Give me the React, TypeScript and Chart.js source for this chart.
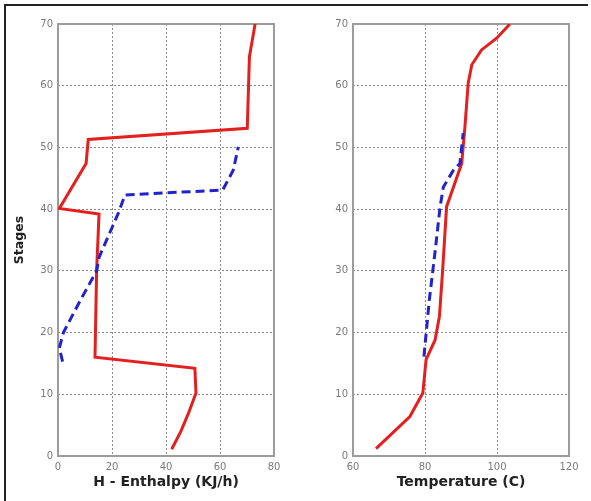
import React, { useEffect, useRef } from 'react';
import { Chart, registerables } from 'chart.js';
Chart.register(...registerables);

// ---- Data ----
const stageMin = 0;
const stageMax = 70;
const stageStep = 10;

// Left panel: H - Enthalpy
const enthalpyRedStages = [1.1, 4, 6.9, 10.2, 14.2, 16, 30, 39.2, 40.1, 47.4, 51.3, 53.1, 64.7, 70];
const enthalpyRedValues = [42.1, 45.5, 48.3, 51.1, 50.7, 13.7, 14.3, 15.2, 0.5, 10.4, 11.2, 70.1, 70.9, 73];
const enthalpyBlueStages = [15.3, 17.5, 20, 25, 30, 32.3, 39.3, 42.3, 43.1, 46.3, 50.1];
const enthalpyBlueValues = [1.7, 0.5, 2, 8, 14.3, 15.3, 22.3, 24.8, 61, 64.9, 66.8];

// Right panel: Temperature
const tempRedStages = [1.2, 6.4, 10.2, 15.6, 18.8, 22.6, 30.1, 40.4, 47.4, 53.4, 60.4, 63.4, 65.8, 67.7, 70];
const tempRedValues = [66.4, 75.8, 79.4, 80.3, 82.8, 84.0, 84.9, 86.0, 90.2, 91.1, 92.0, 93.0, 95.7, 99.9, 103.6];
const tempBlueStages = [16.1, 25.3, 33.1, 40.4, 43.6, 46.3, 47.4, 52.3];
const tempBlueValues = [79.7, 81.2, 82.8, 84.2, 85.1, 87.9, 89.7, 90.6];

const RED = '#e4201e';
const BLUE = '#2323cc';

const pts = (xs: number[], ys: number[]) => xs.map((x, i) => ({ x, y: ys[i] }));

const boxPlugin = {
  id: 'box',
  beforeDatasetsDraw(chart: any) {
    const { ctx, chartArea } = chart;
    const { left, top, right, bottom } = chartArea;
    ctx.save();
    ctx.strokeStyle = '#9c9c9c';
    ctx.lineWidth = 2;
    ctx.strokeRect(left, top, right - left, bottom - top);
    ctx.restore();
  },
};

type PanelProps = {
  left: number;
  width: number;
  xMin: number;
  xMax: number;
  xStep: number;
  xTitle: string;
  yTitle?: string;
  red: { x: number; y: number }[];
  blue: { x: number; y: number }[];
  padRight: number;
};

function Panel(p: PanelProps) {
  const ref = useRef<HTMLCanvasElement | null>(null);
  useEffect(() => {
    if (!ref.current) return;
    const tickFont = { family: 'DejaVu Sans', size: 10 };
    const chart = new Chart(ref.current, {
      type: 'line',
      data: {
        datasets: [
          {
            data: p.blue,
            borderColor: BLUE,
            borderWidth: 3,
            borderDash: [9, 5],
            pointRadius: 0,
            tension: 0,
            fill: false,
          },
          {
            data: p.red,
            borderColor: RED,
            borderWidth: 3,
            pointRadius: 0,
            tension: 0,
            fill: false,
          },
        ],
      },
      options: {
        animation: false,
        responsive: false,
        maintainAspectRatio: false,
        layout: { padding: { left: 0, top: 24, right: p.padRight, bottom: 0 } },
        plugins: { legend: { display: false }, tooltip: { enabled: false } },
        scales: {
          x: {
            type: 'linear',
            min: p.xMin,
            max: p.xMax,
            ticks: { stepSize: p.xStep, color: '#7a7a7a', font: tickFont, padding: 5, maxRotation: 0 },
            grid: { color: '#8a8a8a', lineWidth: 1, drawTicks: false },
            border: { display: false, dash: [2, 2] },
            title: {
              display: true,
              text: p.xTitle,
              color: '#222',
              font: { family: 'DejaVu Sans', size: 14, weight: 'bold' },
              padding: { top: 0, bottom: 10 },
            },
            afterFit: (s: any) => {
              s.height = 45;
            },
          },
          y: {
            type: 'linear',
            min: stageMin,
            max: stageMax,
            ticks: { stepSize: stageStep, color: '#7a7a7a', font: tickFont, padding: 5 },
            grid: { color: '#8a8a8a', lineWidth: 1, drawTicks: false },
            border: { display: false, dash: [2, 2] },
            title: {
              display: !!p.yTitle,
              text: p.yTitle || '',
              color: '#222',
              font: { family: 'DejaVu Sans', size: 12.5, weight: 'bold' },
              padding: { top: 12, bottom: 0 },
            },
            afterFit: (s: any) => {
              s.width = 58;
            },
          },
        },
      },
      plugins: [boxPlugin],
    } as any);
    return () => chart.destroy();
  }, []);
  return (
    <canvas
      ref={ref}
      width={p.width}
      height={501}
      style={{ position: 'absolute', left: p.left, top: 0, width: p.width, height: 501 }}
    />
  );
}

export default function App() {
  return (
    <div style={{ position: 'fixed', left: 0, top: 0, width: 591, height: 501, background: '#fff' }}>
      <Panel
        left={0}
        width={295}
        xMin={0}
        xMax={80}
        xStep={20}
        xTitle="H - Enthalpy (KJ/h)"
        yTitle="Stages"
        red={pts(enthalpyRedValues, enthalpyRedStages)}
        blue={pts(enthalpyBlueValues, enthalpyBlueStages)}
        padRight={21}
      />
      <Panel
        left={295}
        width={296}
        xMin={60}
        xMax={120}
        xStep={20}
        xTitle="Temperature (C)"
        red={pts(tempRedValues, tempRedStages)}
        blue={pts(tempBlueValues, tempBlueStages)}
        padRight={22}
      />
      <div
        style={{
          position: 'absolute',
          left: 4,
          top: 4,
          width: 584,
          height: 497,
          borderTop: '2px solid #222',
          borderLeft: '2px solid #222',
          boxSizing: 'border-box',
          pointerEvents: 'none',
        }}
      />
    </div>
  );
}
